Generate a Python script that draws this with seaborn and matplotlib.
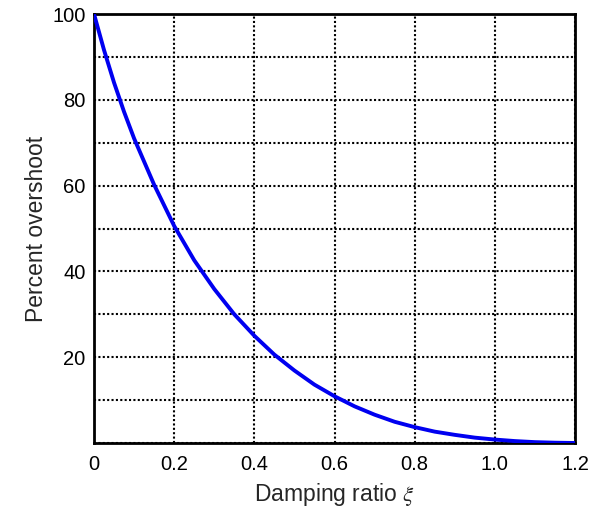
import matplotlib
matplotlib.use("Agg")
import matplotlib.pyplot as plt
import seaborn as sns
import pandas as pd
from matplotlib.ticker import MultipleLocator

damping = [0.0, 0.025, 0.05, 0.075, 0.10, 0.15, 0.20, 0.25, 0.30, 0.35, 0.40,
           0.45, 0.50, 0.55, 0.60, 0.65, 0.70, 0.75, 0.80, 0.85, 0.90, 0.95,
           1.00, 1.05, 1.10, 1.15, 1.20]
overshoot = [100.0, 91.6, 84.0, 77.2, 71.0, 60.2, 50.6, 42.6, 35.9, 30.0, 25.0,
             20.6, 16.9, 13.6, 10.9, 8.55, 6.6, 4.95, 3.7, 2.65, 1.9, 1.25,
             0.8, 0.45, 0.2, 0.07, 0.0]
x_ticks = [0.0, 0.2, 0.4, 0.6, 0.8, 1.0, 1.2]
x_labels = ["0", "0.2", "0.4", "0.6", "0.8", "1.0", "1.2"]
y_ticks = [20, 40, 60, 80, 100]

sns.set_style("white")
plt.rcParams['font.family'] = ['Liberation Sans', 'DejaVu Sans']
plt.rcParams['mathtext.fontset'] = 'stix'

df = pd.DataFrame({"xi": damping, "po": overshoot})

fig = plt.figure(figsize=(6.08, 5.17), dpi=100)
ax = fig.add_axes([94/608, 1-443/517, (575-94)/608, (443-14)/517])

sns.lineplot(data=df, x="xi", y="po", ax=ax, color="#0000f0", linewidth=2.8, zorder=3)

ax.set_xlim(0, 1.2)
ax.set_ylim(0, 100)
ax.set_xticks(x_ticks)
ax.set_xticklabels(x_labels)
ax.set_yticks(y_ticks)
ax.yaxis.set_minor_locator(MultipleLocator(10))
ax.tick_params(axis='both', which='both', length=0, labelsize=14.5, colors='black')
ax.tick_params(axis='x', pad=9)
ax.tick_params(axis='y', pad=6)
ax.grid(True, which='major', axis='both', color='black', linestyle=(0, (1, 1.1)), linewidth=1.5)
ax.grid(True, which='minor', axis='y', color='black', linestyle=(0, (1, 1.1)), linewidth=1.5)
for s in ax.spines.values():
    s.set_color('black')
    s.set_linewidth(2)
    s.set_visible(True)

ax.set_xlabel(r"Damping ratio $\xi$", fontsize=16.5, labelpad=5)
ax.set_ylabel("Percent overshoot", fontsize=16.5, labelpad=3)

fig.savefig("out.png", dpi=100)
